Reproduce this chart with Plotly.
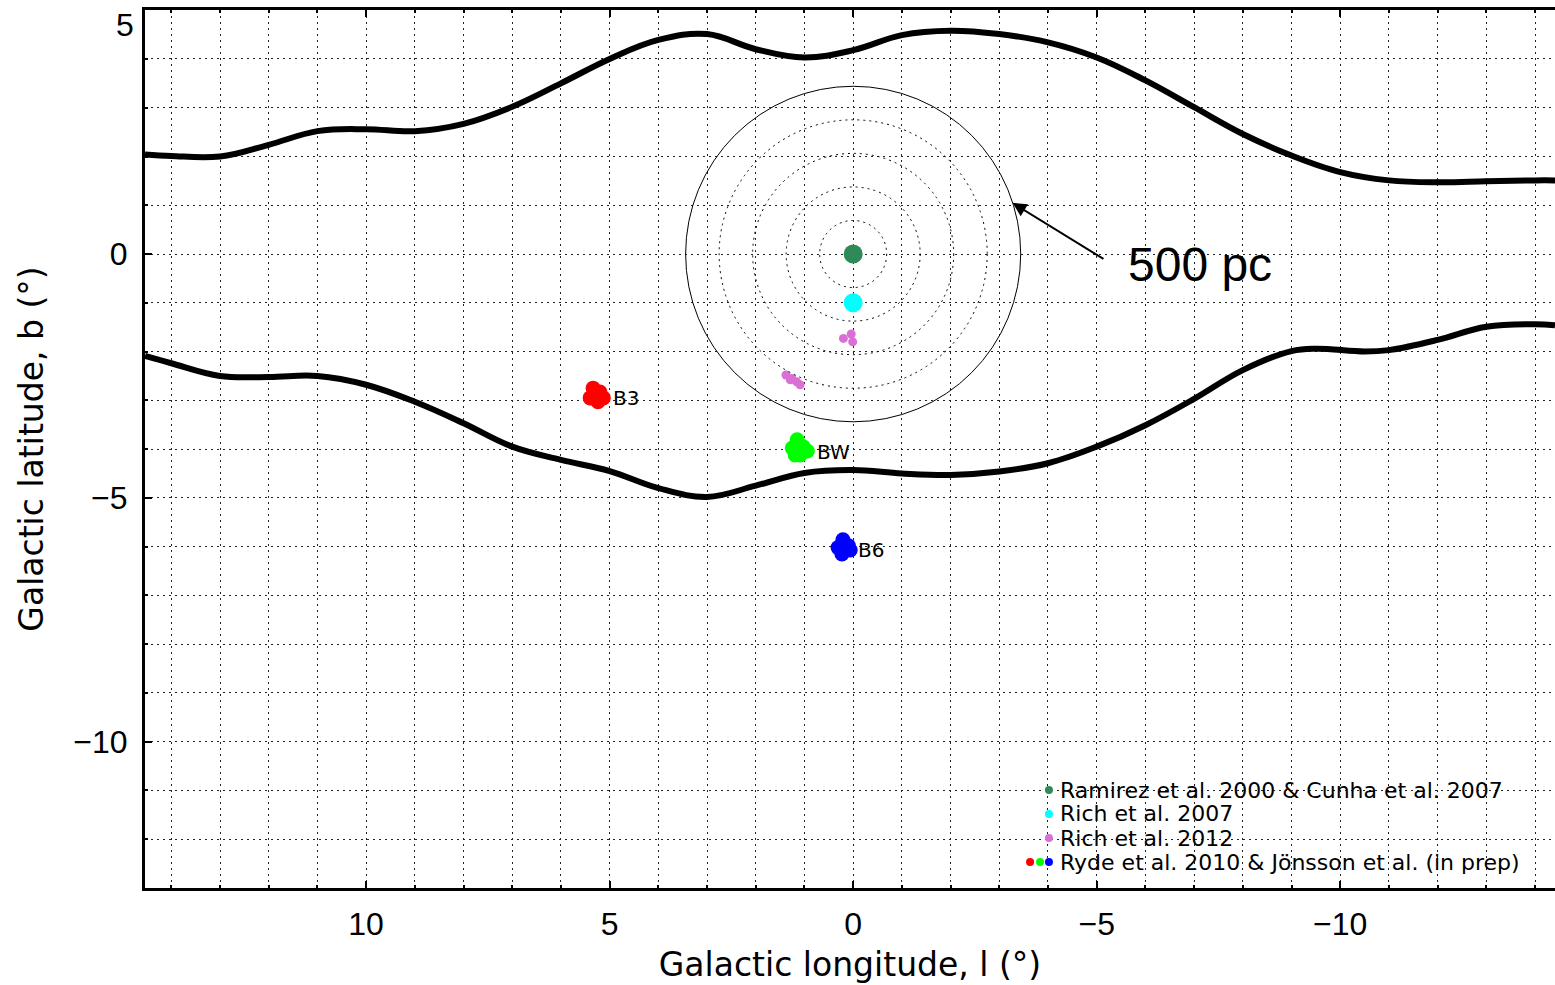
import plotly.graph_objects as go

# ---------------- data ----------------
upper_l = [14.54, 14.0, 13.0, 12.0, 11.0, 10.0, 9.0, 8.0, 7.0, 6.0, 5.0, 4.0, 3.0, 2.0, 1.0, 0.0,
           -1.0, -2.0, -3.0, -4.0, -5.0, -6.0, -7.0, -8.0, -9.0, -10.0, -11.0, -12.0, -13.0, -14.0, -14.41]
upper_b = [2.04, 2.01, 2.00, 2.24, 2.52, 2.56, 2.52, 2.67, 3.02, 3.50, 4.00, 4.39, 4.51, 4.20, 4.03, 4.18,
           4.49, 4.58, 4.51, 4.34, 4.03, 3.56, 3.01, 2.46, 2.02, 1.68, 1.51, 1.47, 1.49, 1.51, 1.51]

lower_l = [14.54, 14.0, 13.0, 12.0, 11.0, 10.0, 9.0, 8.0, 7.0, 6.0, 5.0, 4.0, 3.0, 2.0, 1.0, 0.0,
           -1.0, -2.0, -3.0, -4.0, -5.0, -6.0, -7.0, -8.0, -9.0, -9.5, -10.5, -11.0, -12.0, -13.0, -14.0, -14.41]
lower_b = [-2.09, -2.24, -2.50, -2.52, -2.50, -2.68, -3.03, -3.47, -3.95, -4.22, -4.45, -4.80, -4.98, -4.75, -4.49, -4.43,
           -4.50, -4.53, -4.46, -4.29, -3.95, -3.51, -2.97, -2.38, -1.99, -1.94, -2.00, -1.97, -1.76, -1.49, -1.44, -1.46]

ramirez_l = [0.0]
ramirez_b = [0.0]
rich07_l = [0.0]
rich07_b = [-1.0]
rich12_l = [0.20, 0.04, 0.01, 1.38, 1.29, 1.26, 1.16, 1.09]
rich12_b = [-1.73, -1.64, -1.80, -2.48, -2.58, -2.55, -2.62, -2.68]

b3_l = [5.34, 5.20, 5.40, 5.24, 5.13, 5.30]
b3_b = [-2.75, -2.83, -2.95, -3.03, -2.95, -2.89]
bw_l = [1.15, 1.25, 1.03, 1.09, 0.94, 1.19]
bw_b = [-3.81, -3.98, -3.95, -4.12, -4.04, -4.12]
b6_l = [0.21, 0.31, 0.10, 0.23, 0.06]
b6_b = [-5.86, -6.02, -5.98, -6.15, -6.07]

field_names = ["B3", "BW", "B6"]
ring_pc = [100, 200, 300, 400, 500]
deg_per_pc = 3.44 / 500.0

x_tickvals = [10, 5, 0, -5, -10]
y_tickvals = [5, 0, -5, -10]
y_ticktext = ["5", "0", "\u22125", "\u221210"]

legend_labels = ["Ramirez et al. 2000 & Cunha et al. 2007", "Rich et al. 2007",
                 "Rich et al. 2012", "Ryde et al. 2010 & Jönsson et al. (in prep)"]

# ---------------- figure ----------------
FONT = "DejaVu Sans, Verdana, sans-serif"
NUMFONT = "Liberation Sans, Arial, sans-serif"
fig = go.Figure()

for L, B in [(upper_l, upper_b), (lower_l, lower_b)]:
    fig.add_trace(go.Scatter(x=L, y=B, mode="lines", line=dict(color="black", width=6, shape="spline", smoothing=1.1),
                             hoverinfo="skip", showlegend=False))

def pts(L, B, color, size):
    fig.add_trace(go.Scatter(x=L, y=B, mode="markers", marker=dict(color=color, size=size, line=dict(width=0)),
                             showlegend=False))

pts(ramirez_l, ramirez_b, "#2E8B57", 19)
pts(rich07_l, rich07_b, "#00FFFF", 19)
pts(rich12_l, rich12_b, "#DA70D6", 9)
pts(b3_l, b3_b, "#FF0000", 15)
pts(bw_l, bw_b, "#00FF00", 15)
pts(b6_l, b6_b, "#0000FF", 15)

# field labels
for name, L, B, sh in zip(field_names, [b3_l, bw_l, b6_l], [b3_b, bw_b, b6_b], [14, 16, 12]):
    cl = sum(L) / len(L)
    cb = sum(B) / len(B)
    fig.add_annotation(x=cl, y=cb, text=name, showarrow=False, xanchor="left", yanchor="middle",
                       xshift=sh, yshift=-3, font=dict(family=FONT, size=20, color="black"))

# distance rings
for pc in ring_pc:
    r = pc * deg_per_pc
    solid = pc == ring_pc[-1]
    fig.add_shape(type="circle", xref="x", yref="y", x0=-r, x1=r, y0=-r, y1=r,
                  line=dict(color="black", width=1, dash="solid" if solid else "2px,4px"),
                  layer="above")

# arrow to the 500 pc ring
fig.add_annotation(x=-3.27, y=1.05, ax=-5.17, ay=-0.12, xref="x", yref="y", axref="x", ayref="y",
                   text="", showarrow=True, arrowhead=2, arrowsize=1.4, arrowwidth=2, arrowcolor="black")
fig.add_annotation(x=-7.12, y=-0.22, xref="x", yref="y", text="500 pc", showarrow=False,
                   font=dict(family=NUMFONT, size=48, color="black"), xanchor="center", yanchor="middle")

# manual legend
legend_colors = [["#2E8B57"], ["#00FFFF"], ["#DA70D6"], ["#FF0000", "#00FF00", "#0000FF"]]
row_y = [0.1116, 0.0843, 0.0569, 0.0296]
dot_x = [0.6411, 0.6348, 0.6277]
for lab, cols, yy in zip(legend_labels, legend_colors, row_y):
    for i, c in enumerate(reversed(cols)):
        fig.add_shape(type="circle", xref="paper", yref="paper", xsizemode="pixel", ysizemode="pixel",
                      xanchor=dot_x[i], yanchor=yy, x0=-4, x1=4, y0=-4, y1=4,
                      fillcolor=c, line=dict(width=0), layer="above")
    fig.add_annotation(x=0.6475, y=yy, xref="paper", yref="paper", text=lab, showarrow=False,
                       xanchor="left", yanchor="middle", font=dict(family=FONT, size=22, color="black"))

# top y tick label: drawn just below its tick so it stays inside the page (as in the original)
fig.add_annotation(x=0, xref="paper", y=y_tickvals[0], yref="y", text=y_ticktext[0], showarrow=False,
                   xanchor="right", yanchor="top", xshift=-9, yshift=5,
                   font=dict(family=NUMFONT, size=32, color="black"))

grid_common = dict(showgrid=True, gridcolor="#222", gridwidth=1, griddash="2px,4px")

fig.update_xaxes(range=[14.54, -14.41], tickvals=x_tickvals, ticks="inside", ticklen=7, tickwidth=2,
                 tickcolor="black", showline=True, linecolor="black", linewidth=3, mirror="ticks",
                 tickfont=dict(family=NUMFONT, size=32, color="black"), ticklabelstandoff=6,
                 title=dict(text="Galactic longitude, l (°)", font=dict(family=FONT, size=33, color="black"), standoff=12),
                 minor=dict(dtick=1, ticks="inside", ticklen=3, tickwidth=2, tickcolor="black", **grid_common),
                 zeroline=False, **grid_common)
fig.update_yaxes(range=[-13, 5.004], tickvals=y_tickvals, ticktext=[""] + y_ticktext[1:],
                 ticks="inside", ticklen=7, tickwidth=2,
                 tickcolor="black", showline=True, linecolor="black", linewidth=3, mirror=False,
                 tickfont=dict(family=NUMFONT, size=32, color="black"), ticklabelstandoff=8,
                 automargin="left+width",
                 title=dict(text="Galactic latitude, b (°)", font=dict(family=FONT, size=33, color="black"), standoff=20),
                 minor=dict(dtick=1, ticks="inside", ticklen=3, tickwidth=2, tickcolor="black", **grid_common),
                 zeroline=False, **grid_common)

fig.update_layout(width=1555, height=985, margin=dict(l=145, r=0, t=10, b=97),
                  plot_bgcolor="white", paper_bgcolor="white", showlegend=False)

fig.write_html("out.html")
